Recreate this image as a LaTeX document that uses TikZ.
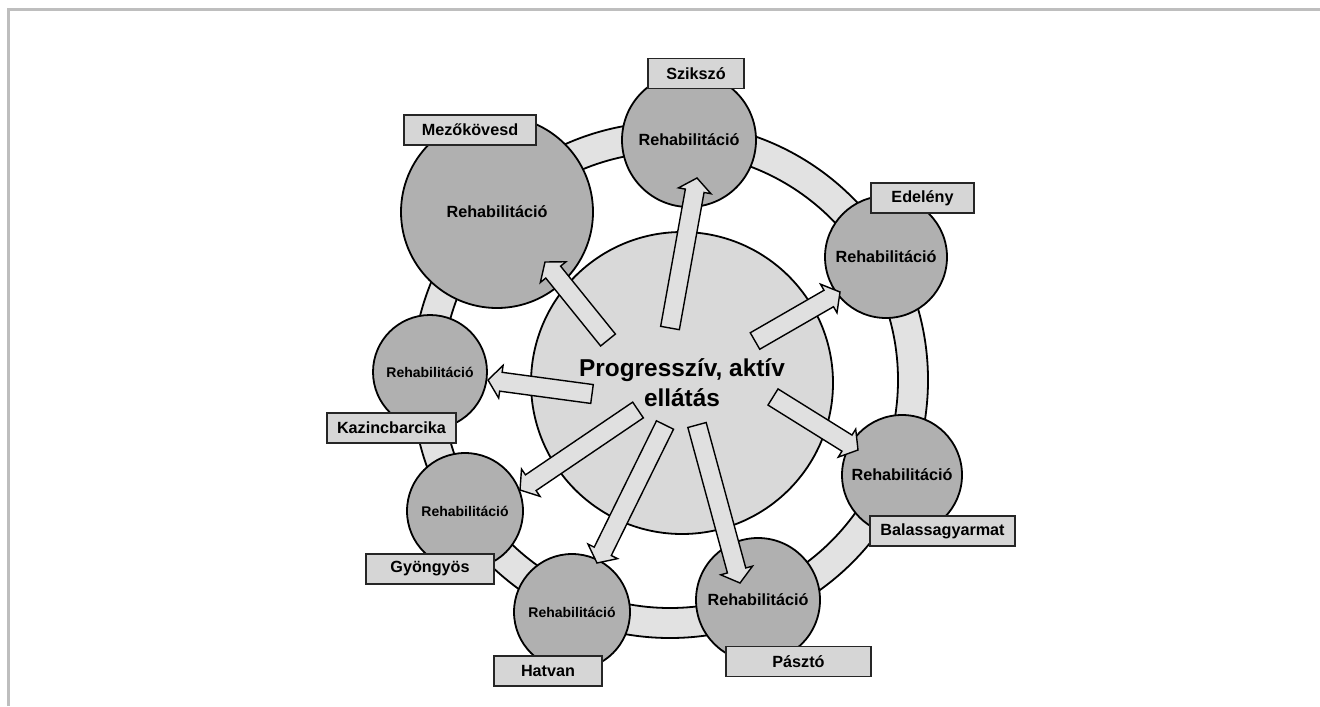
\documentclass[tikz,border=0pt]{standalone}
\usepackage{fontspec}
\setmainfont{Liberation Sans}
\usepackage{tikz}
\usetikzlibrary{calc}
\definecolor{framegray}{RGB}{190,190,190}
\definecolor{circgray}{RGB}{176,176,176}
\definecolor{centergray}{RGB}{217,217,217}
\definecolor{ringgray}{RGB}{226,226,226}
\definecolor{boxgray}{RGB}{214,214,214}
\definecolor{arrowgray}{RGB}{224,224,224}
\newcommand{\blockarrow}[2]{%
\path ($(#2)!6.5pt!(#1)$) coordinate (hb);
\draw[arrowbody] ($(#1)!4.75pt!90:(#2)$) -- ($(hb)!4.75pt!-90:(#1)$) -- ($(hb)!8.25pt!-90:(#1)$) -- (#2)
  -- ($(hb)!8.25pt!90:(#1)$) -- ($(hb)!4.75pt!90:(#1)$) -- ($(#1)!4.75pt!-90:(#2)$) -- cycle;}

\begin{document}
\begin{tikzpicture}[x=0.5pt,y=-0.5pt,
  rehab/.style={circle,draw=black,line width=0.9pt,fill=circgray,inner sep=0pt,font=\bfseries\fontsize{8.1}{10}\selectfont},
  rehabsmall/.style={rehab,font=\bfseries\fontsize{7}{9}\selectfont},
  town/.style={rectangle,draw=black!85,line width=0.8pt,fill=boxgray,inner sep=0pt,minimum height=15pt,font=\bfseries\fontsize{8.1}{10}\selectfont},
  arrowbody/.style={draw=black,line width=0.7pt,fill=arrowgray,line join=miter}]
\useasboundingbox (0,0) rectangle (1320,706);
\draw[framegray, line width=1.5pt] (8,706) -- (8,10) -- (1320,10);
% ring
\draw[line width=0.9pt, fill=ringgray, even odd rule] (670,380) circle[radius=258] (670,380) circle[radius=228];
\node[circle, draw=black, line width=0.9pt, fill=centergray, minimum size=151pt, align=center,
  font=\bfseries\fontsize{12.2}{15}\selectfont] (C0) at (682,383) {Progresszív, aktív\\ellátás};
% rehabilitation sites
\node[rehab, minimum size=67pt] (R1) at (689,140) {Rehabilitáció};
\node[rehab, minimum size=61pt] (R2) at (886,257) {Rehabilitáció};
\node[rehab, minimum size=60pt] (R3) at (902,475) {Rehabilitáció};
\node[rehab, minimum size=62pt] (R4) at (758,600) {Rehabilitáció};
\node[rehabsmall, minimum size=58pt] (R5) at (572,612) {Rehabilitáció};
\node[rehabsmall, minimum size=58pt] (R6) at (465,511) {Rehabilitáció};
\node[rehabsmall, minimum size=57pt] (R7) at (430,372) {Rehabilitáció};
\node[rehab, minimum size=96pt] (R8) at (497,212) {Rehabilitáció};
% town names
\node[town, minimum width=48pt] (L1) at (696,73.5) {Szikszó};
\node[town, minimum width=51.5pt] (L2) at (922.5,198) {Edelény};
\node[town, minimum width=72.5pt] (L3) at (942.5,531) {Balassagyarmat};
\node[town, minimum width=72.5pt] (L4) at (798.5,661.5) {Pásztó};
\node[town, minimum width=54pt] (L5) at (548,671) {Hatvan};
\node[town, minimum width=64pt] (L6) at (430,569) {Gyöngyös};
\node[town, minimum width=64.5pt] (L7) at (391.5,428) {Kazincbarcika};
\node[town, minimum width=66pt] (L8) at (470,130) {Mezőkövesd};
% arrows
\coordinate (a1) at (670,328); \coordinate (b1) at (697,178);
\coordinate (a2) at (755,341); \coordinate (b2) at (840,292);
\coordinate (a3) at (773,397); \coordinate (b3) at (858,450);
\coordinate (a4) at (697,425); \coordinate (b4) at (740,583);
\coordinate (a5) at (665,425); \coordinate (b5) at (597,563);
\coordinate (a6) at (638,410); \coordinate (b6) at (520,490);
\coordinate (a7) at (592,394); \coordinate (b7) at (488,380);
\coordinate (a8) at (608,340); \coordinate (b8) at (545,262);
\blockarrow{a1}{b1}
\blockarrow{a2}{b2}
\blockarrow{a3}{b3}
\blockarrow{a4}{b4}
\blockarrow{a5}{b5}
\blockarrow{a6}{b6}
\blockarrow{a7}{b7}
\blockarrow{a8}{b8}
\end{tikzpicture}
\end{document}
